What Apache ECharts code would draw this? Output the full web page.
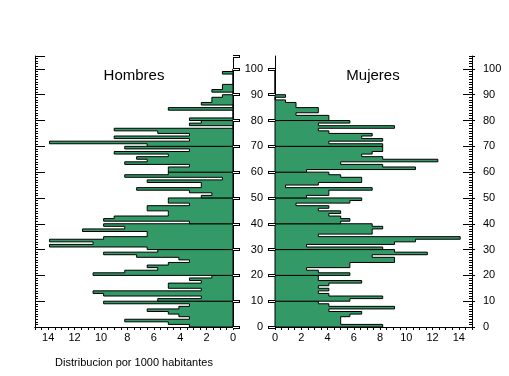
<!DOCTYPE html>
<html>
<head>
<meta charset="utf-8">
<script src="https://cdn.jsdelivr.net/npm/echarts@6/dist/echarts.min.js"></script>
<style>
  html, body { margin: 0; padding: 0; background: #fff; }
  #chart { width: 509px; height: 376px; }
</style>
</head>
<body>
<div id="chart"></div>
<script>
// por 1000 habitantes, edad 0..99 (una barra por edad)
var hombres = [
  3.3, 4.9, 8.2, 3.3, 4.1, 4.9, 6.5, 4.1, 3.3, 9.8,
  5.7, 2.4, 9.8, 10.6, 2.4, 4.9, 4.9, 2.4, 3.3, 1.6,
  10.6, 8.2, 5.7, 6.5, 4.9, 3.3, 4.1, 7.3, 9.8, 5.7,
  6.5, 13.9, 10.6, 13.9, 9.8, 6.5, 6.5, 11.4, 8.2, 9.8,
  3.3, 9.8, 9.0, 4.9, 4.9, 6.5, 6.5, 3.3, 4.9, 4.9,
  2.4, 1.6, 3.3, 7.3, 2.4, 2.4, 6.5, 0.8, 8.2, 4.9,
  4.9, 4.9, 3.3, 8.2, 6.5, 7.3, 4.9, 9.0, 3.3, 8.2,
  6.5, 13.9, 3.3, 9.0, 3.3, 5.7, 9.0, 0, 3.3, 2.4,
  3.3, 0, 0, 0, 4.9, 0, 2.4, 1.6, 1.6, 0.8,
  0, 1.6, 0.8, 0.8, 0, 0, 0, 0, 0.8, 0
];
var mujeres = [
  8.2, 5.0, 5.0, 5.0, 5.7, 6.6, 4.1, 9.1, 4.1, 3.3,
  5.7, 8.2, 4.1, 3.3, 4.1, 3.3, 4.1, 6.6, 3.3, 3.3,
  5.7, 3.3, 2.4, 5.7, 5.7, 9.1, 9.1, 7.4, 11.6, 9.1,
  8.2, 2.4, 9.1, 10.7, 14.1, 3.3, 7.4, 7.4, 8.2, 7.4,
  5.0, 5.7, 5.0, 4.1, 5.0, 3.3, 4.1, 1.6, 5.7, 6.6,
  2.4, 4.1, 4.1, 7.4, 0.8, 3.3, 6.6, 6.6, 5.0, 4.1,
  2.4, 10.7, 8.2, 5.0, 12.4, 8.2, 6.6, 7.4, 8.2, 8.2,
  8.2, 4.1, 8.2, 6.6, 7.4, 4.1, 3.3, 9.1, 3.3, 5.7,
  4.1, 4.1, 1.6, 3.3, 3.3, 1.6, 1.6, 0.8, 0, 0.8,
  0, 0, 0, 0, 0, 0, 0, 0, 0, 0
];
var titulos = ['Hombres', 'Mujeres'];
var ejeNombre = 'Distribucion por 1000 habitantes';

var VERDE = '#339966';
var FUENTE = '"Liberation Sans", Arial, sans-serif';

// cada decada se dibuja como un bloque escalonado (10 barras de un año)
function decadas(arr) {
  var out = [];
  for (var d = 0; d < arr.length; d += 10) {
    var item = [d];
    for (var k = 0; k < 10; k++) item.push(arr[d + k]);
    out.push(item);
  }
  return out;
}
function renderDecada(params, api) {
  var d = api.value(0);
  var pts = [api.coord([0, d])];
  for (var k = 0; k < 10; k++) {
    var v = api.value(k + 1);
    pts.push(api.coord([v, d + k]));
    pts.push(api.coord([v, d + k + 1]));
  }
  pts.push(api.coord([0, d + 10]));
  return {
    type: 'polygon',
    shape: { points: pts },
    style: { fill: VERDE, stroke: '#000', lineWidth: 1 }
  };
}

var negro = { color: '#000', width: 1 };
function ejeX(grid, inverse, pos) {
  var abajo = pos === 'bottom';
  return {
    gridIndex: grid, type: 'value', min: 0, max: 15, interval: 0.5,
    inverse: inverse, position: pos,
    axisLine: { show: true, lineStyle: negro },
    axisTick: { show: true, inside: !abajo, length: abajo ? 3 : 2, lineStyle: negro },
    axisLabel: {
      show: abajo, color: '#000', fontSize: 11, fontFamily: FUENTE, margin: 5,
      formatter: function (v) { return (v % 2 === 0 && v <= 14) ? String(v) : ''; }
    },
    splitLine: { show: false }
  };
}
function ejeY(grid, pos, interval, o) {
  var eje = {
    gridIndex: grid, type: 'value', min: 0, max: 105, interval: interval, position: pos,
    offset: o.offset || 0, z: o.z || 0,
    axisLine: { show: !!o.line, lineStyle: negro },
    axisTick: { show: true, inside: !!o.inside, length: o.len, lineStyle: { color: o.color || '#000', width: o.width || 1 } },
    axisLabel: { show: false },
    splitLine: { show: false }
  };
  if (o.labels) {
    eje.axisLabel = {
      show: true, color: '#000', fontSize: 11, fontFamily: FUENTE, margin: o.margin,
      showMaxLabel: false,
      formatter: function (v) { return v <= 100 ? String(v) : ''; }
    };
  }
  return eje;
}

var xBottomH = ejeX(0, true, 'bottom');
xBottomH.name = ejeNombre;
xBottomH.nameLocation = 'middle';
xBottomH.nameGap = 30;
xBottomH.nameTextStyle = { color: '#000', fontSize: 11, fontFamily: FUENTE };

var chart = echarts.init(document.getElementById('chart'), null, { renderer: 'canvas' });
chart.setOption({
  animation: false,
  backgroundColor: '#fff',
  grid: [
    { left: 35, top: 56, width: 198, height: 271 },
    { left: 275, top: 56, width: 197, height: 271 }
  ],
  xAxis: [
    xBottomH,
    ejeX(0, true, 'top'),
    ejeX(1, false, 'bottom'),
    ejeX(1, false, 'top')
  ],
  yAxis: [
    // Hombres
    ejeY(0, 'right', 10, { line: true, len: 7, width: 3 }),
    ejeY(0, 'right', 10, { offset: 1, len: 6, color: '#fff', z: 5 }),
    ejeY(0, 'left', 1, { line: true, inside: true, len: 3 }),
    ejeY(0, 'left', 10, { inside: true, len: 10 }),
    // Mujeres
    ejeY(1, 'left', 10, { line: true, len: 7, width: 3, labels: true, margin: 12 }),
    ejeY(1, 'left', 10, { offset: 1, len: 6, color: '#fff', z: 5 }),
    ejeY(1, 'right', 1, { line: true, inside: true, len: 3 }),
    ejeY(1, 'right', 10, { inside: true, len: 9, labels: true, margin: 11 }),
    ejeY(1, 'right', 10, { len: 3 })
  ],
  graphic: [
    { type: 'text', x: 134, y: 76, style: { text: titulos[0], fill: '#000', font: '15px ' + FUENTE, textAlign: 'center', textVerticalAlign: 'middle' } },
    { type: 'text', x: 373, y: 76, style: { text: titulos[1], fill: '#000', font: '15px ' + FUENTE, textAlign: 'center', textVerticalAlign: 'middle' } }
  ],
  series: [
    { type: 'custom', name: titulos[0], xAxisIndex: 0, yAxisIndex: 0, renderItem: renderDecada, data: decadas(hombres), encode: { x: 1, y: 0 }, z: 3 },
    { type: 'custom', name: titulos[1], xAxisIndex: 2, yAxisIndex: 4, renderItem: renderDecada, data: decadas(mujeres), encode: { x: 1, y: 0 }, z: 3 }
  ]
});
</script>
</body>
</html>
